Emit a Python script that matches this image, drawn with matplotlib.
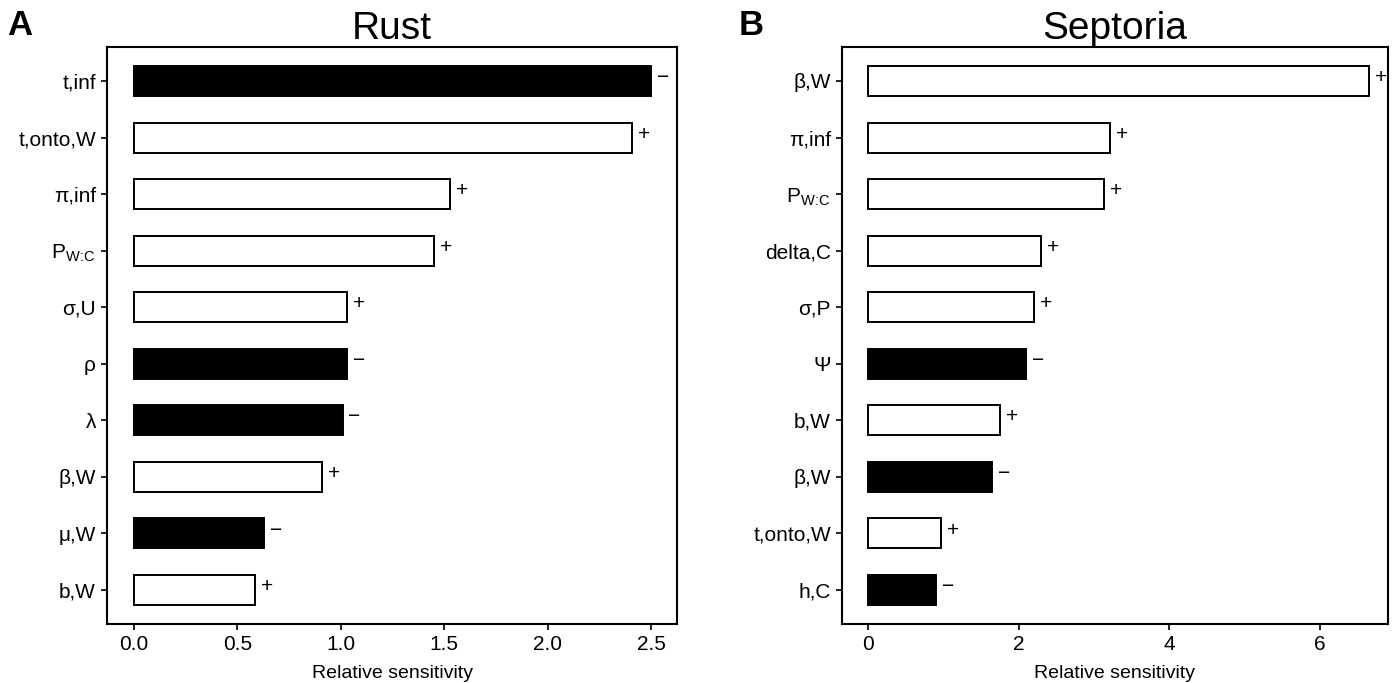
import matplotlib
matplotlib.use("Agg")
import matplotlib.pyplot as plt

plt.rcParams['font.family'] = ['Liberation Sans', 'DejaVu Sans']

rust_labels = ["t,inf", "t,onto,W", "π,inf", r"P$_{\mathregular{W\!:\!C}}$", "σ,U", "ρ", "λ", "β,W", "μ,W", "b,W"]
rust_values = [2.50, 2.41, 1.53, 1.45, 1.03, 1.03, 1.01, 0.91, 0.63, 0.585]
rust_signs = ["−", "+", "+", "+", "+", "−", "−", "+", "−", "+"]

sept_labels = ["β,W", "π,inf", r"P$_{\mathregular{W\!:\!C}}$", "delta,C", "σ,P", "Ψ", "b,W", "β,W", "t,onto,W", "h,C"]
sept_values = [6.65, 3.21, 3.13, 2.30, 2.20, 2.10, 1.75, 1.65, 0.97, 0.90]
sept_signs = ["+", "+", "+", "+", "+", "−", "+", "−", "+", "−"]

rust_ticks = [0.0, 0.5, 1.0, 1.5, 2.0, 2.5]
rust_ticklabels = ["0.0", "0.5", "1.0", "1.5", "2.0", "2.5"]
sept_ticks = [0, 2, 4, 6]
sept_ticklabels = ["0", "2", "4", "6"]

fig = plt.figure(figsize=(14, 6.83), dpi=100)
ax1 = fig.add_axes([107/1400, 1-624/683, 570/1400, 577/683])
ax2 = fig.add_axes([842/1400, 1-624/683, 546/1400, 577/683])

def draw(ax, labels, values, signs, ticks, ticklabels, xlim, title, letter, letter_x):
    n = len(values)
    ypos = list(range(n))
    colors = ["black" if s == "−" else "white" for s in signs]
    ax.barh(ypos, values, height=0.53, color=colors, edgecolor="black", linewidth=1.4)
    for y, v, s in zip(ypos, values, signs):
        ax.annotate(s, (v, y), xytext=(8.5, 2.5), textcoords="offset points",
                    ha="center", va="center", fontsize=15)
    ax.set_ylim(n - 0.4, -0.6)
    ax.set_xlim(*xlim)
    ax.set_yticks(ypos)
    ax.set_yticklabels(labels, fontsize=15)
    ax.set_xticks(ticks)
    ax.set_xticklabels(ticklabels, fontsize=15)
    ax.tick_params(direction="out", length=4, width=1.2, pad=4)
    for sp in ax.spines.values():
        sp.set_linewidth(1.5)
    ax.set_xlabel("Relative sensitivity", fontsize=14, labelpad=8)
    ax.set_title(title, fontsize=28, pad=5)
    fig.text(letter_x, 1 - 35/683, letter, fontsize=25, fontweight="bold", ha="left", va="baseline")

draw(ax1, rust_labels, rust_values, rust_signs, rust_ticks, rust_ticklabels, (-0.13, 2.626), "Rust", "A", 7/1400)
draw(ax2, sept_labels, sept_values, sept_signs, sept_ticks, sept_ticklabels, (-0.345, 6.90), "Septoria", "B", 739/1400)

fig.savefig("out.png", dpi=100)
